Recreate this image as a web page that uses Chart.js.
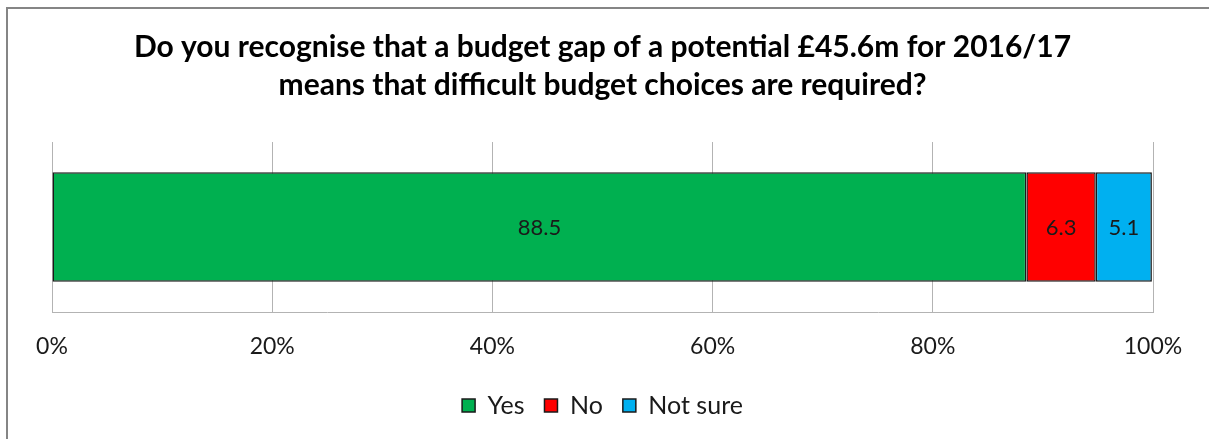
<!DOCTYPE html>
<html>
<head>
<meta charset="utf-8">
<script src="https://cdn.jsdelivr.net/npm/chart.js@4/dist/chart.umd.min.js"></script>
<style>
  html, body { margin: 0; padding: 0; background: #fff; overflow: hidden; }
  #wrap { position: relative; width: 1209px; height: 439px; }
  #frame { position: absolute; left: 6px; top: 7px; width: 1230px; height: 460px; border: 2px solid #858585; box-sizing: border-box; pointer-events: none; }
  canvas { position: absolute; left: 0; top: 0; }
</style>
</head>
<body>
<div id="wrap">
  <canvas id="chart" width="1209" height="439"></canvas>
  <div id="frame"></div>
</div>
<script>
/* 100% 積み上げ横棒 — 予算ギャップ設問 */
const TITLE_LINES = [
  "Do you recognise that a budget gap of a potential £45.6m for 2016/17",
  "means that difficult budget choices are required?"
];
const CATEGORIES = [""];
const SERIES_NAMES = ["Yes", "No", "Not sure"];
const YES = [88.5];
const NO = [6.3];
const NOT_SURE = [5.1];
const X_TICKS = [0, 20, 40, 60, 80, 100];

const COLORS = ["#00b050", "#ff0000", "#00b0f0"];
const FONT = "Lato, 'Open Sans', sans-serif";

// 棒の中央に値を描く
const barLabels = {
  id: "barLabels",
  afterDatasetsDraw(chart) {
    const ctx = chart.ctx;
    ctx.save();
    ctx.font = "22px " + FONT;
    ctx.fillStyle = "#1a1a1a";
    ctx.textAlign = "center";
    ctx.textBaseline = "middle";
    chart.data.datasets.forEach((ds, i) => {
      chart.getDatasetMeta(i).data.forEach((el, j) => {
        const p = el.getCenterPoint();
        ctx.fillText(ds.data[j].toFixed(1), p.x, p.y + 1);
      });
    });
    ctx.restore();
  }
};

new Chart(document.getElementById("chart"), {
  type: "bar",
  data: {
    labels: CATEGORIES,
    datasets: [YES, NO, NOT_SURE].map((d, i) => ({
      label: SERIES_NAMES[i],
      data: d,
      backgroundColor: COLORS[i],
      borderColor: "#1a1a1a",
      borderWidth: 1.5,
      borderSkipped: false,
      barPercentage: 0.645,
      categoryPercentage: 1,
    })),
  },
  options: {
    indexAxis: "y",
    responsive: false,
    animation: false,
    layout: { padding: { left: 52, right: 56, top: 0, bottom: 11 } },
    scales: {
      x: {
        stacked: true,
        min: 0,
        max: 100,
        afterBuildTicks: axis => { axis.ticks = X_TICKS.map(v => ({ value: v })); },
        afterFit: axis => { axis.height = 61; },
        ticks: { callback: v => v + "%", color: "#1a1a1a", font: { family: FONT, size: 23 }, padding: 21, maxRotation: 0 },
        grid: { color: "#b3b3b3", lineWidth: 1, drawTicks: false },
        border: { color: "#b3b3b3", width: 1 },
      },
      y: { stacked: true, display: false },
    },
    plugins: {
      title: {
        display: true,
        text: TITLE_LINES,
        color: "#000",
        font: { family: FONT, size: 30, weight: "bold", lineHeight: 1.267 },
        padding: { top: 28, bottom: 38 },
      },
      legend: {
        position: "bottom",
        labels: {
          color: "#1a1a1a",
          font: { family: FONT, size: 25 },
          boxWidth: 13,
          boxHeight: 13,
          padding: 20,
        },
      },
      tooltip: { enabled: false },
    },
  },
  plugins: [barLabels],
});
</script>
</body>
</html>
